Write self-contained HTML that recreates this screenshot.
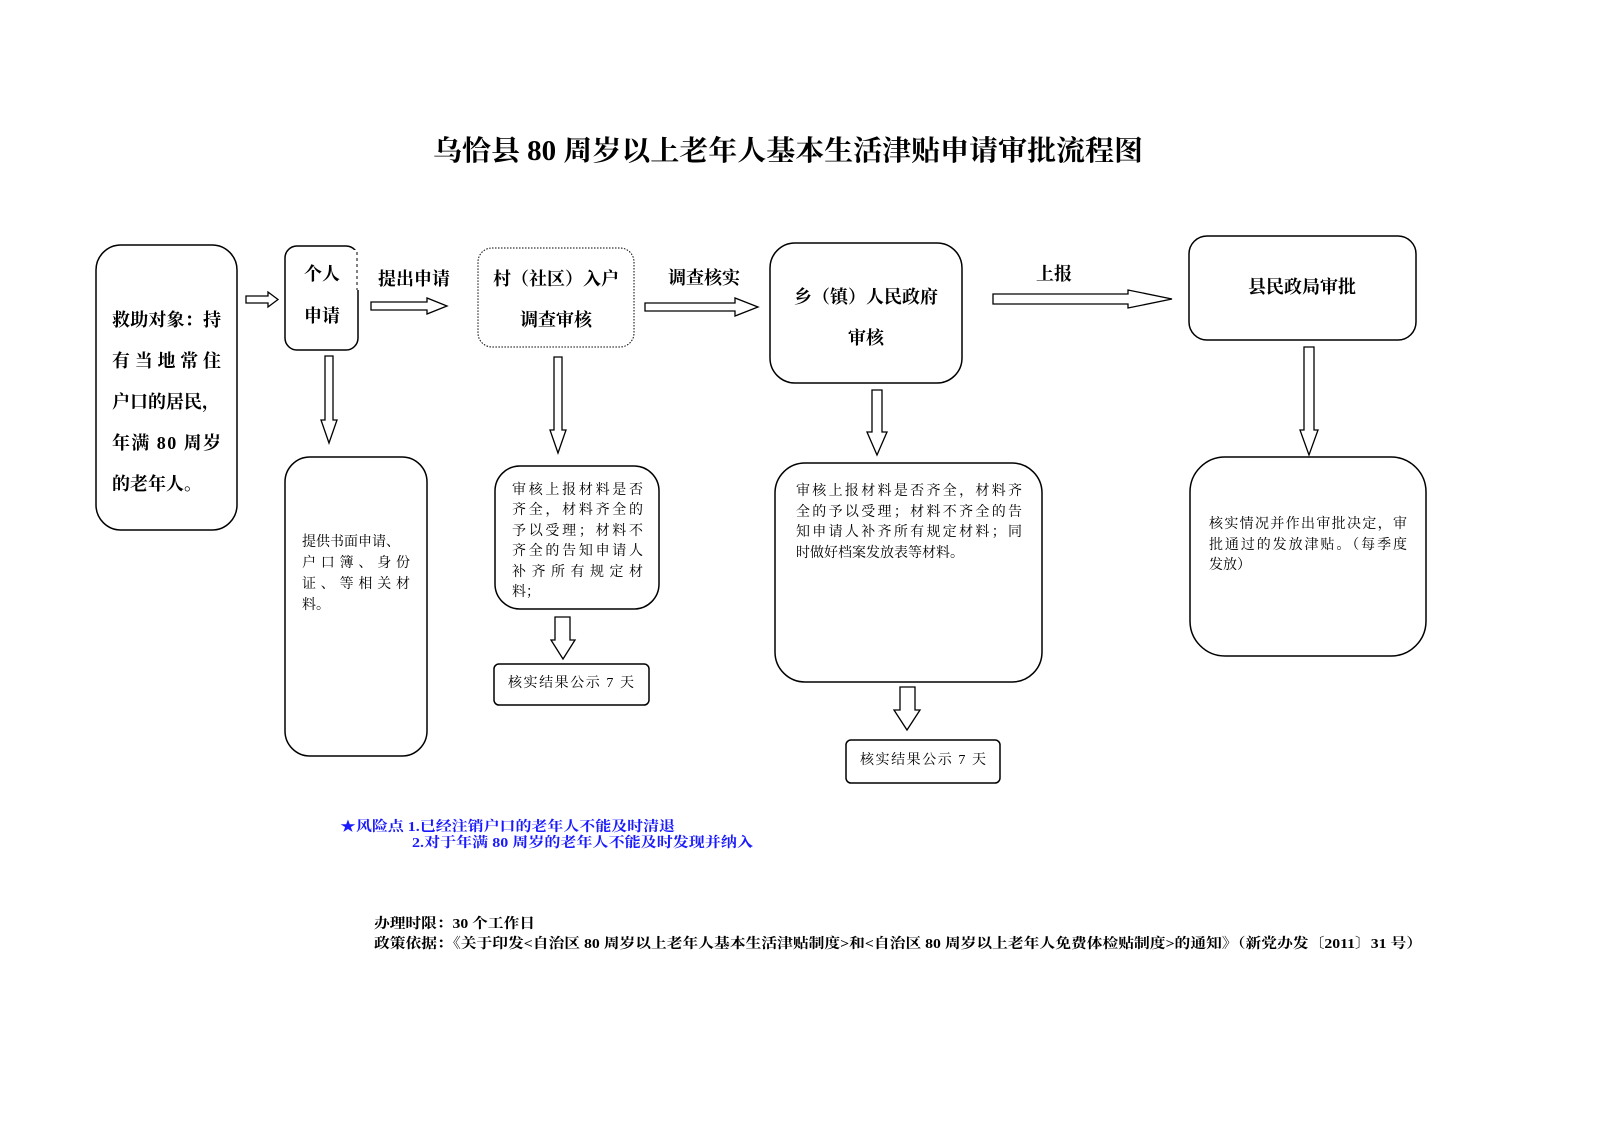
<!DOCTYPE html>
<html><head><meta charset="utf-8"><style>
html,body{margin:0;padding:0;background:#fff;}
svg{display:block}
text{font-family:"Liberation Serif","Noto Serif CJK SC",serif}
.b{font-weight:bold}
.blue{fill:#1a1aff}
</style></head><body>
<svg width="1597" height="1128" viewBox="0 0 1597 1128" xmlns="http://www.w3.org/2000/svg">
<text x="433" y="160" class="b" font-size="28" textLength="710" lengthAdjust="spacingAndGlyphs">乌恰县 80 周岁以上老年人基本生活津贴申请审批流程图</text>

<g fill="none" stroke="#000" stroke-width="1.5">
<rect x="96" y="245" width="141" height="285" rx="25"/>
<rect x="285" y="246" width="73" height="104" rx="12"/>
<rect x="478" y="248" width="156" height="99" rx="14" stroke-dasharray="1.5,1.5" stroke-width="1"/>
<rect x="770" y="243" width="192" height="140" rx="25"/>
<rect x="1189" y="236" width="227" height="104" rx="18"/>
<rect x="285" y="457" width="142" height="299" rx="25"/>
<rect x="495" y="466" width="164" height="143" rx="25"/>
<rect x="775" y="463" width="267" height="219" rx="30"/>
<rect x="1190" y="457" width="236" height="199" rx="35"/>
<rect x="494" y="664" width="155" height="41" rx="5"/>
<rect x="846" y="740" width="154" height="43" rx="5"/>
</g>
<rect x="352" y="250" width="10" height="40" fill="#fff"/>
<line x1="357" y1="252" x2="357" y2="290" stroke="#000" stroke-dasharray="3,3" stroke-width="1"/>

<g fill="#fff" stroke="#000" stroke-width="1.3">
<polygon points="246,296 268,296 268,292 278,299.5 268,307 268,303 246,303"/>
<polygon points="371,302 427,302 427,298 447,306 427,314 427,310 371,310"/>
<polygon points="645,303 735,303 735,298 758,307 735,316 735,311 645,311"/>
<polygon points="993,294 1128,294 1128,290 1172,299 1128,308 1128,304 993,304"/>
<polygon points="325,356 333,356 333,420 337,420 329,443 321,420 325,420"/>
<polygon points="554,357 562,357 562,430 566,430 558,453 550,430 554,430"/>
<polygon points="872,390 882,390 882,432 887,432 877,455 867,432 872,432"/>
<polygon points="1304,347 1314,347 1314,430 1318,430 1309,455 1300,430 1304,430"/>
<polygon points="555,617 570,617 570,640 575,640 563,659 551,640 555,640"/>
<polygon points="900,687 915,687 915,710 920,710 907,730 894,710 900,710"/>
</g>

<g class="b" font-size="18">
<text x="112" y="326" textLength="109" lengthAdjust="spacing">救助对象：持</text>
<text x="112" y="367" textLength="109" lengthAdjust="spacing">有当地常住</text>
<text x="112" y="408">户口的居民，</text>
<text x="112" y="449" textLength="109" lengthAdjust="spacing">年满 80 周岁</text>
<text x="112" y="490">的老年人。</text>
<text x="322" y="280" text-anchor="middle">个人</text>
<text x="322" y="322" text-anchor="middle">申请</text>
<text x="414" y="285" text-anchor="middle">提出申请</text>
<text x="556" y="285" text-anchor="middle">村（社区）入户</text>
<text x="556" y="326" text-anchor="middle">调查审核</text>
<text x="704" y="284" text-anchor="middle">调查核实</text>
<text x="866" y="303" text-anchor="middle">乡（镇）人民政府</text>
<text x="866" y="344" text-anchor="middle">审核</text>
<text x="1054" y="280" text-anchor="middle">上报</text>
<text x="1302" y="293" text-anchor="middle">县民政局审批</text>
</g>

<g font-size="14">
<text x="302" y="546">提供书面申请、</text>
<text x="302" y="567" textLength="108" lengthAdjust="spacing">户口簿、身份</text>
<text x="302" y="588" textLength="108" lengthAdjust="spacing">证、等相关材</text>
<text x="302" y="609">料。</text>
<text x="512" y="494" textLength="131" lengthAdjust="spacing">审核上报材料是否</text>
<text x="512" y="514" textLength="131" lengthAdjust="spacing">齐全，材料齐全的</text>
<text x="512" y="535" textLength="131" lengthAdjust="spacing">予以受理；材料不</text>
<text x="512" y="555" textLength="131" lengthAdjust="spacing">齐全的告知申请人</text>
<text x="512" y="576" textLength="131" lengthAdjust="spacing">补齐所有规定材</text>
<text x="512" y="596">料；</text>
<text x="508" y="687" textLength="126" lengthAdjust="spacing">核实结果公示 7 天</text>
<text x="796" y="495" textLength="226" lengthAdjust="spacing">审核上报材料是否齐全，材料齐</text>
<text x="796" y="516" textLength="226" lengthAdjust="spacing">全的予以受理；材料不齐全的告</text>
<text x="796" y="536" textLength="226" lengthAdjust="spacing">知申请人补齐所有规定材料；同</text>
<text x="796" y="557">时做好档案发放表等材料。</text>
<text x="860" y="764" textLength="126" lengthAdjust="spacing">核实结果公示 7 天</text>
<text x="1209" y="528" textLength="198" lengthAdjust="spacing">核实情况并作出审批决定，审</text>
<text x="1209" y="549" textLength="198" lengthAdjust="spacing">批通过的发放津贴。（每季度</text>
<text x="1209" y="569">发放）</text>
</g>

<g class="b" font-size="14">
<text x="340" y="831" class="blue" textLength="335" lengthAdjust="spacingAndGlyphs">★风险点 1.已经注销户口的老年人不能及时清退</text>
<text x="412" y="847" class="blue" textLength="341" lengthAdjust="spacingAndGlyphs">2.对于年满 80 周岁的老年人不能及时发现并纳入</text>
<text x="374" y="928" textLength="161" lengthAdjust="spacingAndGlyphs">办理时限：30 个工作日</text>
<text x="374" y="948" textLength="1048" lengthAdjust="spacingAndGlyphs">政策依据：《关于印发&lt;自治区 80 周岁以上老年人基本生活津贴制度&gt;和&lt;自治区 80 周岁以上老年人免费体检贴制度&gt;的通知》（新党办发〔2011〕31 号）</text>
</g>
</svg>
</body></html>
